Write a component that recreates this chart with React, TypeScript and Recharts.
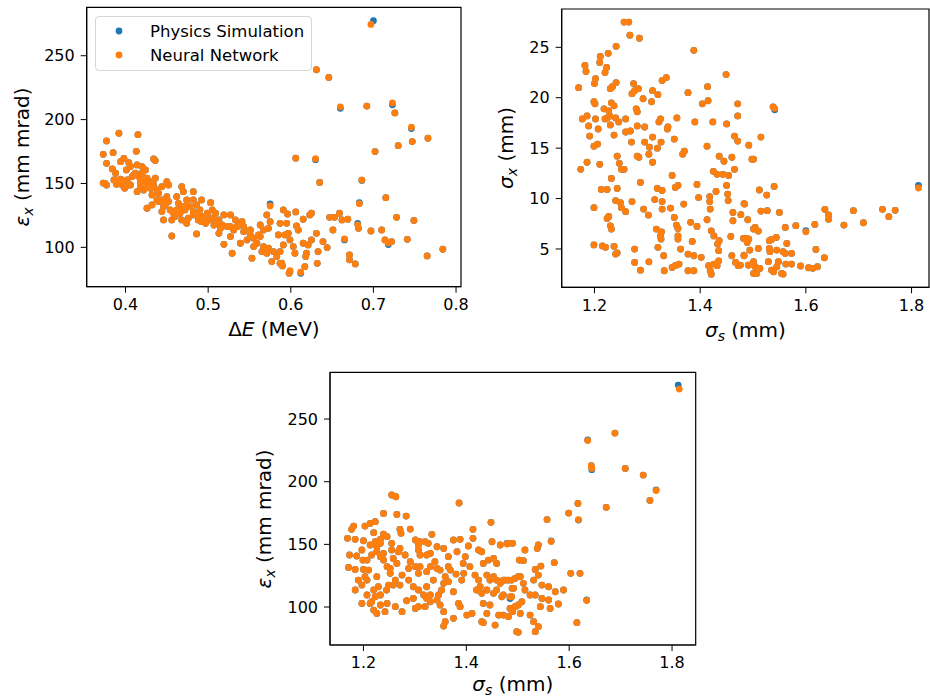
import React from 'react';
import { ScatterChart, Scatter, XAxis, YAxis, Label, Legend, ReferenceArea } from 'recharts';

const FONT = '"DejaVu Sans", sans-serif';
const BLUE = '#1f77b4';
const ORANGE = '#ff7f0e';

const seriesNames = ['Physics Simulation', 'Neural Network'];
const seriesColors = [BLUE, ORANGE];

// rows: [x, y physics, y network (if it differs), x network (if it differs)]
const energyVsEmittance: number[][] = [
  [0.700, 277.4, 274.5, 0.697], [0.631, 239.0], [0.646, 233.0], [0.660, 208.8, 210.0], [0.692, 210.6],
  [0.723, 211.6, 213.0], [0.726, 205.2], [0.746, 193.0, 194.0], [0.766, 185.4], [0.747, 182.8],
  [0.730, 179.6], [0.702, 175.0], [0.606, 169.8], [0.630, 168.6, 169.4], [0.635, 150.8],
  [0.686, 152.4, 152.8], [0.715, 138.9], [0.683, 135.0, 134.2], [0.728, 123.5], [0.749, 121.0],
  [0.784, 98.5], [0.765, 93.3],
  [0.392, 189.3], [0.415, 188.2], [0.377, 183.3], [0.373, 172.8], [0.385, 174.1], [0.413, 175.2],
  [0.436, 167.9], [0.434, 169.2], [0.394, 167.1], [0.404, 166.3], [0.384, 161.4], [0.375, 150.1],
  [0.390, 151.4], [0.394, 153.3], [0.386, 152.8], [0.401, 160.6], [0.406, 163.2], [0.414, 164.5],
  [0.420, 163.2], [0.424, 160.6], [0.412, 158.0], [0.416, 155.4], [0.418, 151.4], [0.422, 152.8],
  [0.426, 154.1], [0.428, 150.1], [0.432, 151.4], [0.436, 154.1], [0.400, 147.5], [0.406, 148.8],
  [0.414, 143.6], [0.434, 148.8], [0.438, 144.9], [0.440, 142.3], [0.444, 147.5], [0.450, 151.4],
  [0.452, 148.8], [0.426, 130.6], [0.432, 133.2], [0.440, 135.8], [0.446, 131.9], [0.444, 128.0],
  [0.450, 139.7], [0.452, 135.8], [0.462, 139.7], [0.468, 147.5], [0.470, 143.6], [0.464, 134.5],
  [0.468, 130.6], [0.474, 137.1], [0.472, 129.3], [0.466, 126.7], [0.482, 143.6], [0.482, 137.1],
  [0.486, 133.2], [0.490, 129.3], [0.492, 137.1], [0.503, 135.0], [0.494, 124.0], [0.499, 126.7],
  [0.505, 129.3], [0.509, 126.7], [0.513, 121.5], [0.519, 125.4], [0.527, 125.4], [0.476, 122.8],
  [0.482, 125.4], [0.488, 121.5], [0.446, 121.5], [0.456, 121.5], [0.460, 124.1], [0.468, 121.5],
  [0.474, 118.8], [0.456, 108.9], [0.486, 110.5], [0.497, 118.8], [0.507, 117.5], [0.517, 117.5],
  [0.523, 116.2], [0.533, 121.5], [0.537, 118.8], [0.543, 116.2], [0.541, 120.1], [0.513, 111.0],
  [0.519, 102.4], [0.527, 108.4], [0.529, 95.4], [0.539, 103.2], [0.547, 105.8], [0.551, 109.7],
  [0.555, 100.6], [0.559, 103.2], [0.561, 109.7], [0.563, 117.5], [0.567, 113.6], [0.573, 114.9],
  [0.575, 120.1], [0.571, 125.4], [0.575, 134.0, 132.4], [0.573, 99.3], [0.565, 96.7], [0.553, 91.5],
  [0.577, 88.9], [0.587, 96.7], [0.589, 87.6], [0.591, 101.9], [0.593, 109.7], [0.595, 118.8],
  [0.587, 118.8], [0.585, 109.7], [0.591, 129.3], [0.373, 150.3], [0.377, 148.8], [0.389, 149.4],
  [0.399, 146.3],
  [0.410, 156.7], [0.420, 158.0], [0.426, 148.8], [0.430, 146.2], [0.422, 144.9], [0.418, 147.5],
  [0.432, 141.0], [0.438, 137.1], [0.444, 137.1], [0.448, 133.2], [0.454, 129.3], [0.458, 126.7],
  [0.462, 129.3], [0.470, 131.9], [0.474, 133.2], [0.478, 131.9], [0.482, 128.0], [0.488, 125.4],
  [0.492, 120.1], [0.501, 121.5], [0.505, 122.8], [0.511, 118.8], [0.515, 114.9], [0.527, 116.2],
  [0.531, 113.6], [0.535, 116.2], [0.543, 112.3], [0.551, 113.6], [0.555, 107.1], [0.563, 108.4],
  [0.567, 100.6], [0.571, 95.4], [0.579, 96.7], [0.583, 92.8], [0.587, 87.5], [0.377, 165.8],
  [0.398, 169.7], [0.388, 158.0], [0.402, 152.8], [0.408, 155.4], [0.396, 148.8],
  [0.596, 126.1], [0.606, 127.7], [0.615, 122.0], [0.623, 125.4], [0.625, 126.7], [0.607, 116.8],
  [0.609, 113.6], [0.597, 111.0], [0.603, 100.6], [0.605, 95.4], [0.599, 105.8], [0.615, 103.2],
  [0.621, 101.9], [0.625, 105.8], [0.619, 95.4], [0.618, 92.8], [0.631, 111.0], [0.633, 96.7],
  [0.590, 85.5], [0.599, 81.0, 81.8], [0.598, 79.7], [0.612, 79.7, 80.5], [0.617, 84.9], [0.632, 87.5],
  [0.639, 104.5], [0.644, 99.8], [0.651, 113.6], [0.665, 105.8, 106.6], [0.671, 94.1], [0.671, 90.2],
  [0.678, 87.0], [0.647, 123.5], [0.653, 123.5], [0.659, 126.7], [0.662, 121.5], [0.669, 122.0],
  [0.681, 118.8, 117.6], [0.682, 114.9], [0.697, 112.8], [0.710, 113.6], [0.714, 105.8],
  [0.718, 102.2, 103.5], [0.722, 104.5], [0.741, 106.3],
];

const bunchVsBeamSize: number[][] = [
  [1.256, 27.5], [1.265, 27.5], [1.267, 26.2], [1.285, 25.9], [1.241, 25.1], [1.226, 24.4],
  [1.211, 24.1], [1.210, 23.5], [1.220, 22.5], [1.223, 23.0], [1.182, 23.2], [1.184, 22.6],
  [1.202, 21.9], [1.200, 21.4], [1.170, 21.0], [1.230, 20.9], [1.234, 21.1], [1.241, 21.5],
  [1.274, 21.4], [1.271, 20.4], [1.276, 20.7], [1.283, 20.9], [1.292, 19.9], [1.310, 20.7],
  [1.320, 20.3], [1.308, 19.6], [1.328, 21.7], [1.336, 22.0], [1.377, 20.5], [1.414, 21.1],
  [1.201, 19.4], [1.199, 19.6], [1.218, 18.9], [1.227, 18.7], [1.232, 19.5], [1.237, 19.2],
  [1.229, 18.2], [1.224, 18.0], [1.177, 17.9], [1.186, 18.2], [1.202, 17.9], [1.220, 17.9],
  [1.240, 18.0], [1.259, 17.9], [1.189, 17.2], [1.207, 16.9], [1.230, 17.3], [1.246, 17.6],
  [1.191, 16.2], [1.237, 16.3], [1.199, 15.2], [1.206, 15.4], [1.259, 16.6], [1.268, 16.7],
  [1.281, 18.6], [1.279, 18.9], [1.295, 17.1], [1.281, 17.2], [1.322, 17.6], [1.325, 17.9],
  [1.339, 17.1], [1.338, 16.9], [1.356, 18.0], [1.390, 17.6], [1.424, 17.6], [1.450, 17.4],
  [1.471, 18.2], [1.471, 19.4], [1.404, 19.4], [1.415, 19.7], [1.449, 22.3], [1.388, 24.7],
  [1.270, 15.6], [1.295, 15.6], [1.310, 16.1], [1.326, 15.6], [1.304, 15.1], [1.319, 15.0],
  [1.281, 14.2], [1.284, 14.1], [1.303, 14.4], [1.310, 13.6], [1.351, 15.9], [1.370, 14.7],
  [1.367, 14.4], [1.413, 15.2], [1.436, 14.2], [1.445, 13.7], [1.460, 14.1], [1.465, 12.9],
  [1.465, 16.2], [1.471, 15.7], [1.492, 15.3], [1.498, 13.9], [1.243, 14.2], [1.247, 13.5],
  [1.251, 12.9], [1.256, 12.9], [1.210, 13.4], [1.186, 13.6], [1.174, 12.9], [1.232, 12.0],
  [1.243, 11.0], [1.213, 10.9], [1.224, 10.9], [1.287, 11.6], [1.347, 12.3], [1.353, 11.1],
  [1.358, 11.3], [1.394, 11.4], [1.397, 10.1], [1.319, 11.0], [1.328, 10.8], [1.314, 9.9],
  [1.328, 9.7], [1.344, 9.06], [1.328, 8.96], [1.369, 9.45], [1.418, 10.2], [1.418, 9.7],
  [1.419, 8.96], [1.430, 10.7], [1.450, 11.3], [1.452, 10.45], [1.453, 9.8], [1.425, 12.7],
  [1.432, 12.4], [1.443, 12.4], [1.454, 12.3], [1.240, 9.8], [1.249, 9.6], [1.251, 9.1],
  [1.259, 8.7], [1.271, 9.7], [1.199, 9.1], [1.224, 8.03], [1.227, 8.23], [1.230, 7.3],
  [1.232, 6.97], [1.293, 8.96], [1.302, 8.36], [1.317, 6.97], [1.325, 6.3], [1.326, 5.98],
  [1.327, 6.7], [1.351, 8.13], [1.355, 7.37], [1.358, 7.04], [1.358, 6.3], [1.358, 5.98],
  [1.382, 7.64], [1.394, 7.24], [1.385, 5.75], [1.413, 7.9], [1.421, 6.8], [1.426, 6.3],
  [1.436, 5.82], [1.433, 5.49], [1.435, 4.83], [1.458, 6.25], [1.462, 8.63], [1.462, 7.8],
  [1.477, 8.4], [1.484, 9.45], [1.490, 7.9], [1.492, 5.98], [1.489, 5.65], [1.199, 5.4],
  [1.215, 5.3], [1.221, 5.16], [1.237, 5.26], [1.240, 4.5], [1.243, 4.6], [1.276, 4.99],
  [1.276, 3.67], [1.287, 2.9], [1.303, 3.73], [1.320, 5.16], [1.331, 4.33], [1.332, 2.84],
  [1.347, 3.17], [1.353, 3.34], [1.360, 3.5], [1.363, 4.99], [1.377, 4.5], [1.388, 4.33],
  [1.402, 4.17], [1.377, 2.84], [1.388, 2.84], [1.416, 3.34], [1.419, 2.84], [1.426, 3.5],
  [1.432, 3.34], [1.421, 2.5], [1.435, 3.83], [1.460, 4.33], [1.467, 3.67], [1.472, 3.34],
  [1.483, 4.33], [1.492, 3.4],
  [1.515, 16.1], [1.501, 13.9], [1.813, 11.3, 11.05], [1.512, 10.85], [1.526, 10.35], [1.540, 11.2],
  [1.483, 9.5], [1.515, 8.76], [1.527, 8.8], [1.550, 8.63], [1.501, 6.98], [1.510, 6.78],
  [1.504, 7.14], [1.561, 7.14], [1.581, 7.31], [1.600, 6.81, 6.7], [1.617, 7.44], [1.636, 8.93],
  [1.643, 8.37], [1.643, 7.94], [1.690, 8.8], [1.672, 7.37], [1.709, 7.6], [1.745, 8.93],
  [1.757, 8.2], [1.769, 8.83], [1.482, 6.05], [1.488, 6.05], [1.531, 5.82], [1.535, 5.95],
  [1.544, 6.15], [1.494, 4.89], [1.510, 5.06], [1.531, 5.06], [1.532, 4.73], [1.483, 4.4],
  [1.564, 5.55], [1.545, 4.89], [1.561, 4.56], [1.573, 4.56], [1.557, 4.73], [1.619, 4.96],
  [1.635, 4.13], [1.476, 3.4], [1.491, 3.4], [1.501, 3.74], [1.504, 3.24], [1.501, 2.58],
  [1.507, 2.58], [1.513, 3.07], [1.529, 3.74], [1.535, 2.91], [1.539, 2.74], [1.545, 3.24],
  [1.548, 3.74], [1.554, 2.58], [1.557, 2.51], [1.562, 3.5], [1.573, 3.5], [1.590, 3.31],
  [1.605, 3.14], [1.613, 3.08], [1.622, 3.24], [1.538, 19.1], [1.541, 18.8, 18.95],
];

const bunchVsEmittance: number[][] = [
  [1.812, 277.1, 273.9, 1.814], [1.689, 238.8], [1.636, 233.3, 232.8], [1.643, 212.8],
  [1.644, 209.6, 210.6], [1.709, 210.6], [1.744, 205.3], [1.769, 193.5, 193.0], [1.757, 185.0],
  [1.672, 179.5], [1.599, 175.0], [1.617, 182.7], [1.618, 169.4, 169.8], [1.255, 189.4],
  [1.263, 188.0], [1.386, 183.0], [1.557, 169.8], [1.565, 152.7, 152.3], [1.448, 167.6],
  [1.603, 126.9], [1.621, 126.9], [1.634, 105.6, 105.2], [1.615, 87.5],
  [1.239, 174.7], [1.265, 173.9], [1.283, 172.6], [1.181, 164.6], [1.177, 162.0], [1.203, 164.6],
  [1.213, 166.7], [1.223, 168.1], [1.220, 159.3], [1.239, 158.2], [1.271, 162.0], [1.291, 162.2],
  [1.273, 158.8], [1.333, 158.0], [1.169, 154.8], [1.184, 154.0], [1.200, 152.9], [1.213, 149.5],
  [1.223, 152.1], [1.233, 154.0], [1.226, 148.1], [1.255, 145.5], [1.268, 144.1], [1.271, 146.8],
  [1.281, 141.5], [1.301, 153.5], [1.310, 152.1], [1.320, 152.1], [1.326, 150.8], [1.307, 149.5],
  [1.307, 145.5], [1.310, 141.5], [1.323, 141.5], [1.356, 146.8], [1.375, 153.5], [1.388, 154.0],
  [1.413, 162.0], [1.413, 154.8], [1.404, 148.7], [1.424, 145.5], [1.430, 144.1], [1.450, 152.1],
  [1.466, 149.5], [1.479, 150.8, 150.2], [1.490, 150.8], [1.503, 137.5], [1.173, 141.5],
  [1.187, 140.7], [1.197, 145.5], [1.199, 137.5], [1.207, 137.5], [1.216, 141.5], [1.226, 144.1],
  [1.233, 140.2], [1.239, 137.5], [1.246, 132.2], [1.252, 130.8], [1.171, 131.6], [1.184, 130.0],
  [1.200, 130.0], [1.203, 124.2], [1.207, 121.5], [1.197, 117.5], [1.226, 124.2], [1.229, 116.2],
  [1.220, 113.6], [1.223, 108.2], [1.216, 104.2], [1.220, 97.6], [1.226, 94.9], [1.242, 96.3],
  [1.233, 101.6], [1.245, 113.6], [1.249, 117.5], [1.258, 117.5], [1.271, 117.5], [1.197, 102.9],
  [1.213, 102.9], [1.275, 125.5], [1.288, 130.8], [1.291, 136.2], [1.301, 132.2], [1.310, 132.2],
  [1.307, 126.9], [1.323, 128.2], [1.330, 132.2], [1.339, 136.2], [1.343, 130.8], [1.349, 129.5],
  [1.359, 124.2], [1.365, 120.2], [1.356, 118.9], [1.352, 113.6], [1.346, 109.6], [1.343, 105.6],
  [1.349, 101.6], [1.356, 96.3], [1.323, 116.2], [1.330, 109.6], [1.323, 106.9], [1.330, 104.2],
  [1.320, 100.3], [1.301, 98.9], [1.284, 105.0], [1.275, 96.3], [1.369, 129.5], [1.380, 126.3],
  [1.394, 134.8], [1.375, 112.2], [1.385, 102.9], [1.388, 100.3], [1.401, 93.6], [1.411, 94.9],
  [1.375, 91.0], [1.359, 88.3], [1.356, 84.8], [1.417, 125.5], [1.424, 121.5], [1.427, 116.2],
  [1.420, 113.6], [1.430, 110.9], [1.433, 102.9], [1.440, 125.5], [1.446, 121.5], [1.453, 124.2],
  [1.459, 121.5], [1.466, 118.9], [1.453, 110.9], [1.469, 108.2], [1.446, 101.6], [1.443, 137.5],
  [1.453, 138.8], [1.459, 134.8], [1.472, 121.5], [1.482, 121.5], [1.495, 122.8], [1.505, 124.2],
  [1.472, 93.6], [1.485, 98.9], [1.490, 96.3], [1.495, 100.3], [1.501, 101.6], [1.498, 80.3],
  [1.456, 85.6], [1.430, 88.3], [1.433, 87.5], [1.463, 93.6], [1.489, 114.9], [1.485, 106.8, 108.2],
  [1.233, 150.8], [1.246, 156.1], [1.255, 150.8], [1.239, 142.8], [1.258, 138.8], [1.265, 134.8],
  [1.252, 126.9], [1.262, 121.5], [1.288, 121.5], [1.297, 116.2], [1.307, 113.6], [1.317, 109.6],
  [1.297, 106.9], [1.307, 100.3], [1.336, 121.5], [1.391, 121.5], [1.395, 126.9], [1.407, 132.2],
  [1.398, 140.2], [1.382, 144.1], [1.365, 140.2], [1.365, 132.2], [1.343, 148.1], [1.330, 142.8],
  [1.210, 129.5], [1.190, 121.5], [1.184, 113.6], [1.207, 109.6], [1.233, 109.6], [1.246, 102.9],
  [1.262, 100.3], [1.433, 134.8], [1.440, 113.6], [1.459, 113.6], [1.472, 109.6], [1.440, 94.9],
  [1.540, 149.5], [1.538, 146.8], [1.514, 145.5], [1.511, 137.0], [1.571, 135.4], [1.545, 132.7],
  [1.534, 130.0], [1.540, 125.5], [1.482, 150.8], [1.476, 121.5], [1.488, 121.5], [1.501, 124.2],
  [1.531, 121.5], [1.547, 117.5], [1.560, 116.2], [1.573, 112.2], [1.589, 113.6], [1.511, 118.9],
  [1.514, 113.6], [1.492, 114.9], [1.488, 108.2], [1.508, 104.2], [1.524, 109.6], [1.534, 109.6],
  [1.547, 106.9], [1.560, 105.6], [1.579, 102.4], [1.563, 98.9], [1.544, 100.3], [1.495, 100.3],
  [1.505, 94.9], [1.524, 93.6], [1.531, 88.3], [1.540, 84.3], [1.534, 80.3], [1.501, 79.8],
  [1.482, 92.3],
];

const energyTicks = [0.4, 0.5, 0.6, 0.7, 0.8];
const bunchTicks = [1.2, 1.4, 1.6, 1.8];
const emittanceTicks = [100, 150, 200, 250];
const beamSizeTicks = [5, 10, 15, 20, 25];

const simPoints = (rows: number[][]) => rows.map((r) => ({ x: r[0], y: r[1] }));
const nnPoints = (rows: number[][]) => rows.map((r) => ({ x: r[3] ?? r[0], y: r[2] ?? r[1] }));

const blueDot = (p: any) => <circle cx={p.cx} cy={p.cy} r={3.4} fill={BLUE} />;
const orangeDot = (p: any) => <circle cx={p.cx} cy={p.cy} r={3.4} fill={ORANGE} />;

const tickStyle = { fontSize: 16, fill: '#000', fontFamily: FONT };
const labelStyle = { fontSize: 20, fill: '#000', fontFamily: FONT };

const epsLabel = (
  <>
    <tspan fontStyle="italic">ε</tspan>
    <tspan fontStyle="italic" fontSize={14} dy={4}>x</tspan>
    <tspan dy={-4}> (mm mrad)</tspan>
  </>
);
const sigmaLabel = (sub: string) => (
  <>
    <tspan fontStyle="italic">σ</tspan>
    <tspan fontStyle="italic" fontSize={14} dy={4}>{sub}</tspan>
    <tspan dy={-4}> (mm)</tspan>
  </>
);
const energyLabel = (
  <>
    <tspan>Δ</tspan>
    <tspan fontStyle="italic">E</tspan>
    <tspan> (MeV)</tspan>
  </>
);

function renderLegend() {
  return (
    <div
      style={{
        width: 217, height: 55, boxSizing: 'border-box', border: '1px solid #d6d6d6', borderRadius: 4,
        background: 'rgba(255,255,255,0.8)', fontFamily: FONT, fontSize: 16.5, color: '#000', paddingTop: 2,
      }}
    >
      {seriesNames.map((name, i) => (
        <div key={name} style={{ display: 'flex', alignItems: 'center', height: 24 }}>
          <svg width={54} height={24} style={{ flex: 'none' }}>
            <circle cx={23} cy={12} r={3.4} fill={seriesColors[i]} />
          </svg>
          <span>{name}</span>
        </div>
      ))}
    </div>
  );
}

interface PanelProps {
  left: number; top: number; width: number; height: number;
  plotTop: number; plotRight: number; yAxisWidth: number; xAxisHeight: number;
  rows: number[][];
  xDomain: [number, number]; yDomain: [number, number];
  xTicks: number[]; yTicks: number[];
  xLabel: React.ReactNode; yLabel: React.ReactNode;
  xLabelPos: [number, number]; yLabelPos: [number, number];
  legend?: boolean;
}

function Panel(p: PanelProps) {
  return (
    <div style={{ position: 'absolute', left: p.left, top: p.top }}>
      <ScatterChart width={p.width} height={p.height} margin={{ top: p.plotTop, right: p.plotRight, bottom: 0, left: 0 }}>
        <XAxis
          type="number" dataKey="x" domain={p.xDomain} ticks={p.xTicks} allowDataOverflow interval={0}
          height={p.xAxisHeight} tick={tickStyle} tickSize={6} tickMargin={6} stroke="#000"
          tickFormatter={(v: number) => v.toFixed(1)}
        >
          <Label content={() => (
            <text x={p.xLabelPos[0]} y={p.xLabelPos[1]} textAnchor="middle" {...labelStyle}>{p.xLabel}</text>
          )} />
        </XAxis>
        <YAxis
          type="number" dataKey="y" domain={p.yDomain} ticks={p.yTicks} allowDataOverflow interval={0}
          width={p.yAxisWidth} tick={tickStyle} tickSize={6} tickMargin={6} stroke="#000"
        >
          <Label content={() => (
            <text
              x={p.yLabelPos[0]} y={p.yLabelPos[1]} textAnchor="middle"
              transform={`rotate(-90, ${p.yLabelPos[0]}, ${p.yLabelPos[1]})`} {...labelStyle}
            >{p.yLabel}</text>
          )} />
        </YAxis>
        <Scatter name={seriesNames[0]} data={simPoints(p.rows)} fill={BLUE} shape={blueDot} isAnimationActive={false} />
        <Scatter name={seriesNames[1]} data={nnPoints(p.rows)} fill={ORANGE} shape={orangeDot} isAnimationActive={false} />
        <ReferenceArea
          x1={p.xDomain[0]} x2={p.xDomain[1]} y1={p.yDomain[0]} y2={p.yDomain[1]}
          fill="none" fillOpacity={0} stroke="#000" strokeWidth={1.2} ifOverflow="visible"
        />
        {p.legend && (
          <Legend
            layout="vertical" align="center" verticalAlign="middle" content={renderLegend}
            wrapperStyle={{ left: 95, top: 16, width: 217, height: 55 }}
          />
        )}
      </ScatterChart>
    </div>
  );
}

export default function App() {
  return (
    <div style={{ position: 'absolute', left: 0, top: 0, width: 930, height: 698, background: '#fff', overflow: 'hidden' }}>
      <Panel
        left={0} top={0} width={470} height={345} plotTop={7.3} plotRight={9} yAxisWidth={86.7} xAxisHeight={58.3}
        rows={energyVsEmittance} xDomain={[0.353, 0.806]} yDomain={[69.2, 287.9]}
        xTicks={energyTicks} yTicks={emittanceTicks}
        xLabel={energyLabel} yLabel={epsLabel} xLabelPos={[273.9, 336]} yLabelPos={[28.5, 157]} legend
      />
      <Panel
        left={470} top={0} width={460} height={345} plotTop={9} plotRight={1} yAxisWidth={91.7} xAxisHeight={57.7}
        rows={bunchVsBeamSize} xDomain={[1.138, 1.833]} yDomain={[1.2, 28.8]}
        xTicks={bunchTicks} yTicks={beamSizeTicks}
        xLabel={sigmaLabel('s')} yLabel={sigmaLabel('x')} xLabelPos={[275.4, 336.5]} yLabelPos={[42.7, 148]}
      />
      <Panel
        left={240} top={365} width={460} height={333} plotTop={7.3} plotRight={4.3} yAxisWidth={90} xAxisHeight={53}
        rows={bunchVsEmittance} xDomain={[1.135, 1.846]} yDomain={[69.7, 287.3]}
        xTicks={bunchTicks} yTicks={emittanceTicks}
        xLabel={sigmaLabel('s')} yLabel={epsLabel} xLabelPos={[272.8, 325.5]} yLabelPos={[31, 154]}
      />
    </div>
  );
}
